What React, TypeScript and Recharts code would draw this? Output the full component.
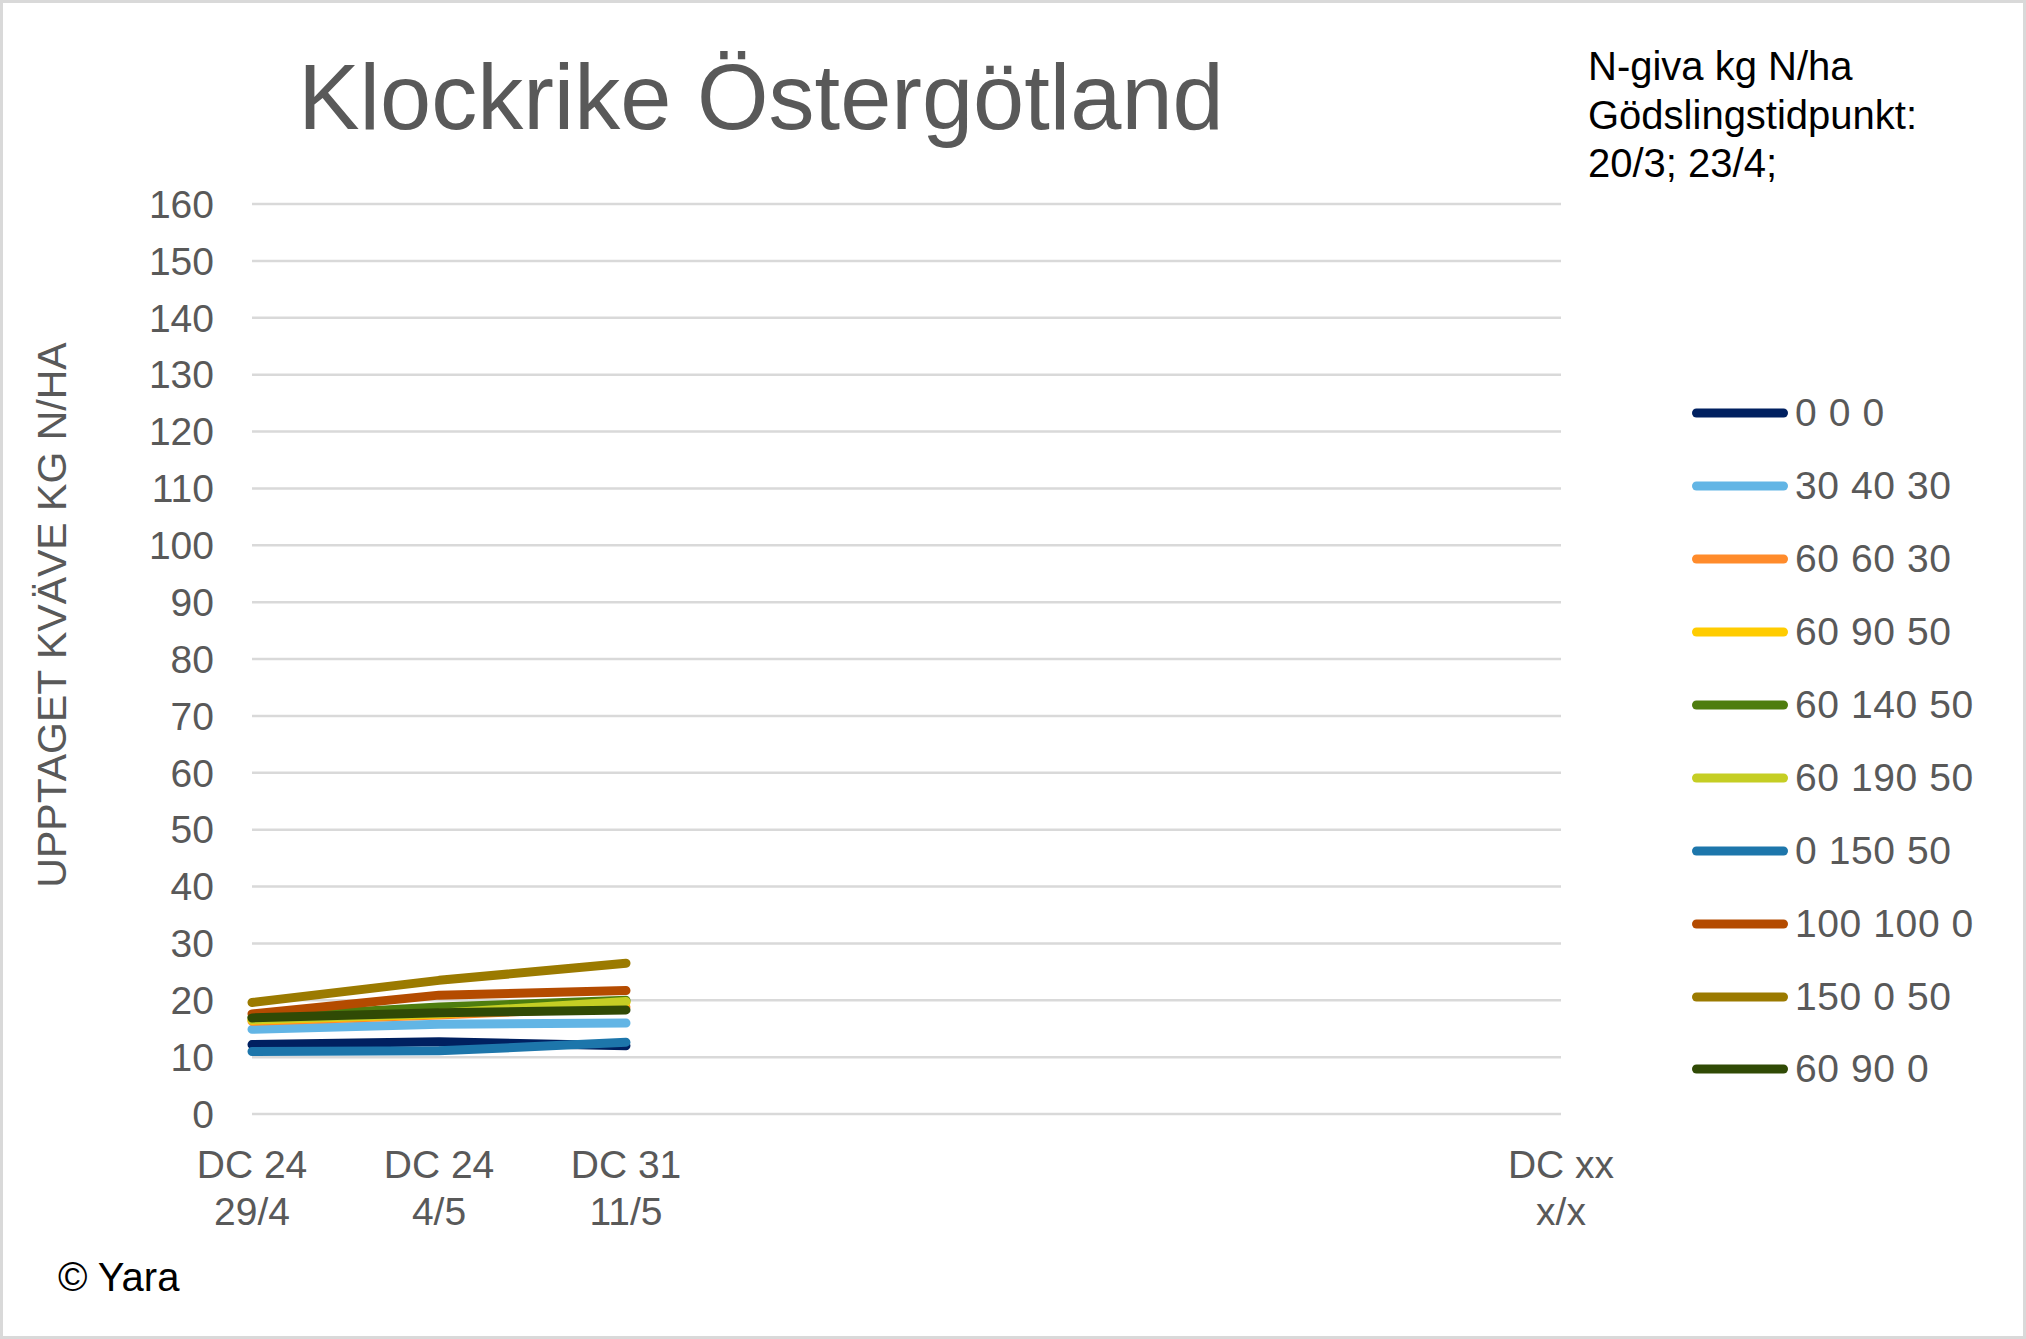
import React from 'react';
import { LineChart, Line, XAxis, YAxis, CartesianGrid, Legend } from 'recharts';

// x-axis: growth stage + date (empty slots keep the Excel spacing)
const stages = ['DC 24', 'DC 24', 'DC 31', '', '', '', '', 'DC xx'];
const dates = ['29/4', '4/5', '11/5', '', '', '', '', 'x/x'];

const yTicks = [0, 10, 20, 30, 40, 50, 60, 70, 80, 90, 100, 110, 120, 130, 140, 150, 160];

const seriesNames = [
  '0 0 0', '30 40 30', '60 60 30', '60 90 50', '60 140 50',
  '60 190 50', '0 150 50', '100 100 0', '150 0 50', '60 90 0',
];
const seriesColors = [
  '#002060', '#62B5E5', '#FF8B2B', '#FFCC00', '#4E7D0E',
  '#C5CE24', '#1D76AB', '#B44B00', '#9B7A00', '#304A05',
];

const s000 = [12.2, 12.7, 12.0];
const s304030 = [14.9, 15.8, 16.0];
const s606030 = [16.3, 17.4, 18.8];
const s609050 = [16.5, 17.6, 19.6];
const s6014050 = [17.0, 18.8, 20.0];
const s6019050 = [16.6, 17.7, 19.8];
const s015050 = [11.0, 11.1, 12.6];
const s1001000 = [17.6, 20.9, 21.7];
const s150050 = [19.6, 23.5, 26.5];
const s60900 = [16.9, 17.8, 18.3];

const seriesValues = [s000, s304030, s606030, s609050, s6014050, s6019050, s015050, s1001000, s150050, s60900];

const data = stages.map((_, i) => {
  const row: any = { i };
  seriesNames.forEach((n, k) => {
    row[n] = seriesValues[k][i];
  });
  return row;
});

const FONT = '"Liberation Sans", Arial, sans-serif';
const GREY = '#595959';

const XTick = ({ x, y, payload }: any) => {
  const i = payload.value;
  return (
    <g>
      <text x={x} y={y + 64} textAnchor="middle" fill={GREY} fontSize={39} fontFamily={FONT}>{stages[i]}</text>
      <text x={x} y={y + 111} textAnchor="middle" fill={GREY} fontSize={39} fontFamily={FONT}>{dates[i]}</text>
    </g>
  );
};

const renderLegend = () => (
  <div>
    {seriesNames.map((n, k) => (
      <div key={n} style={{ height: 72.9, display: 'flex', alignItems: 'center' }}>
        <svg width={100} height={20} style={{ display: 'block' }}>
          <line x1={6.5} y1={10} x2={93.5} y2={10} stroke={seriesColors[k]} strokeWidth={9} strokeLinecap="round" />
        </svg>
        <span style={{ fontFamily: FONT, fontSize: 39, letterSpacing: 0.6, color: GREY, marginLeft: 5, whiteSpace: 'nowrap' }}>{n}</span>
      </div>
    ))}
  </div>
);

export default function App() {
  return (
    <div style={{ position: 'absolute', left: 0, top: 0, width: 2026, height: 1339, background: '#fff', overflow: 'hidden' }}>
      <LineChart width={2026} height={1339} data={data} margin={{ top: 204, right: 465, bottom: 125, left: 152 }}>
        <CartesianGrid vertical={false} stroke="#D9D9D9" strokeWidth={2.5} />
        <XAxis
          dataKey="i"
          type="category"
          height={100}
          interval={0}
          axisLine={false}
          tickLine={false}
          tickSize={0}
          tickMargin={0}
          tick={<XTick />}
        />
        <YAxis
          width={100}
          domain={[0, 160]}
          ticks={yTicks}
          interval={0}
          axisLine={false}
          tickLine={false}
          tickSize={0}
          tickMargin={38}
          tick={{ fill: GREY, fontSize: 39, fontFamily: FONT }}
        />
        <Legend
          layout="vertical"
          align="center"
          verticalAlign="middle"
          content={renderLegend}
          wrapperStyle={{ position: 'absolute', left: 1690, top: 377, width: 330 }}
        />
        {seriesNames.map((n, k) => (
          <Line
            key={n}
            dataKey={n}
            stroke={seriesColors[k]}
            strokeWidth={9}
            strokeLinecap="round"
            strokeLinejoin="round"
            dot={false}
            activeDot={false}
            isAnimationActive={false}
          />
        ))}
      </LineChart>
      <svg width={2026} height={1339} style={{ position: 'absolute', left: 0, top: 0, pointerEvents: 'none' }}>
        <text x={761} y={129} textAnchor="middle" fill={GREY} fontSize={92} fontFamily={FONT}>Klockrike Östergötland</text>
        <text x={1588} y={80} fill="#000" fontSize={40} fontFamily={FONT}>N-giva kg N/ha</text>
        <text x={1588} y={129} fill="#000" fontSize={40} fontFamily={FONT}>Gödslingstidpunkt:</text>
        <text x={1588} y={177} fill="#000" fontSize={40} fontFamily={FONT}>20/3; 23/4;</text>
        <text
          x={52}
          y={615}
          transform="rotate(-90 52 615)"
          textAnchor="middle"
          dominantBaseline="central"
          fill={GREY}
          fontSize={41}
          fontFamily={FONT}
        >
          UPPTAGET KVÄVE KG N/HA
        </text>
        <text x={58} y={1291} fill="#000" fontSize={40} fontFamily={FONT}>© Yara</text>
      </svg>
      <div style={{ position: 'absolute', left: 0, top: 0, width: 2026, height: 1339, border: '3px solid #D9D9D9', boxSizing: 'border-box', pointerEvents: 'none' }} />
    </div>
  );
}
